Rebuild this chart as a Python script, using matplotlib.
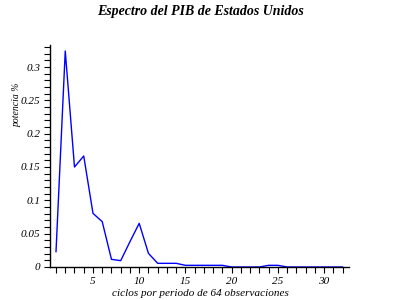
import matplotlib
matplotlib.use("Agg")
import matplotlib.pyplot as plt
from matplotlib.ticker import MultipleLocator

# ciclos por periodo (1..32) y potencia
ciclos = list(range(1, 33))
potencia = [0.023, 0.324, 0.150, 0.1665, 0.0805, 0.068, 0.0115, 0.0095,
            0.038, 0.0655, 0.0205, 0.0055, 0.0055, 0.0055, 0.0025, 0.0025,
            0.0025, 0.0025, 0.0025, 0.0, 0.0, 0.0, 0.0, 0.0025,
            0.0025, 0.0, 0.0, 0.0, 0.0, 0.0, 0.0, 0.0]
yticks = [0, 0.05, 0.1, 0.15, 0.2, 0.25, 0.3]
ytick_labels = ["0", "0.05", "0.1", "0.15", "0.2", "0.25", "0.3"]
xticks = [5, 10, 15, 20, 25, 30]

SERIF = ["Liberation Serif", "DejaVu Serif"]

fig = plt.figure(figsize=(4, 3), dpi=100)
ax = fig.add_axes([0.125, 0.11, 0.7475, 0.74])

ax.plot(ciclos, potencia, color="blue", lw=1.0, zorder=1)

ax.set_xlim(0.35, 32.7)
ax.set_ylim(0, 0.333)

for s in ("top", "right"):
    ax.spines[s].set_visible(False)
for s in ("left", "bottom"):
    ax.spines[s].set_linewidth(1.0)
    ax.spines[s].set_zorder(3)

ax.set_xticks(xticks)
ax.set_xticklabels([str(t) for t in xticks])
ax.xaxis.set_minor_locator(MultipleLocator(1))
ax.set_yticks(yticks)
ax.set_yticklabels(ytick_labels)
ax.yaxis.set_minor_locator(MultipleLocator(0.01))

ax.tick_params(which="both", direction="out", length=4, width=0.8, color="black")
ax.tick_params(axis="x", which="major", pad=3)
ax.tick_params(axis="y", which="major", pad=3)
for lab in ax.get_xticklabels() + ax.get_yticklabels():
    lab.set_family(SERIF)
    lab.set_style("italic")
    lab.set_fontsize(8)

fig.text(0.5, 0.96, "Espectro del PIB de Estados Unidos", ha="center", va="center",
         family=SERIF, style="italic", weight="bold", fontsize=10)
fig.text(0.042, 0.65, "potencia %", rotation=90, ha="center", va="center",
         family=SERIF, style="italic", fontsize=7)
fig.text(0.5, 0.006, "ciclos por periodo de 64 observaciones", ha="center", va="bottom",
         family=SERIF, style="italic", fontsize=8)

fig.savefig("out.png", dpi=100)
